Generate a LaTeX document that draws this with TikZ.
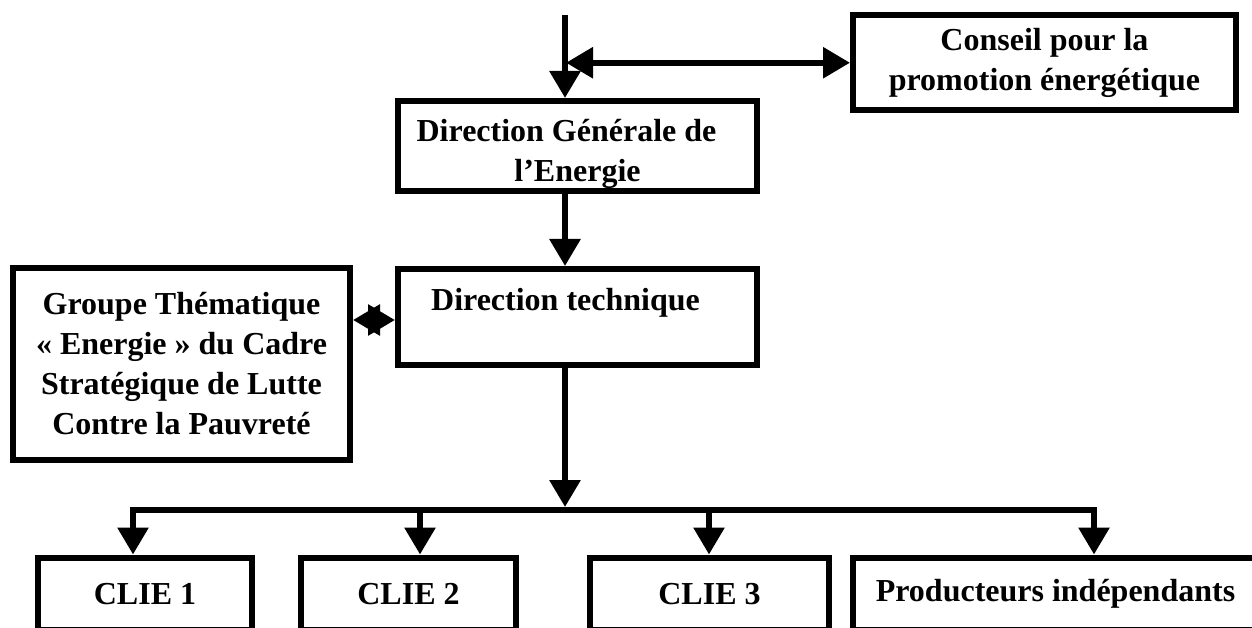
\documentclass[tikz,border=0pt]{standalone}
\usepackage{fontspec}
\setmainfont{Liberation Serif}
\usetikzlibrary{arrows.meta}
\begin{document}
\begin{tikzpicture}[x=1pt,y=-1pt,
  txt/.style={align=center, inner sep=0pt, font=\fontsize{32}{40}\selectfont\bfseries},
  box/.style={draw=black, line width=6pt, rectangle, txt},
  conn/.style={line width=6pt},
  arr/.style={conn, -{Triangle[length=27pt,width=30pt]}},
  darr/.style={conn, {Triangle[length=27pt,width=30pt]}-{Triangle[length=27pt,width=30pt]}}]
\useasboundingbox (0,0) rectangle (1252,628);
\clip (0,0) rectangle (1252,628);
% boxes
\node[box, minimum width=383pt, minimum height=94.5pt] (conseil) at (1044.5,62.75) {Conseil pour la\\promotion énergétique};
\node[box, minimum width=359pt, minimum height=90.5pt,
  label={[txt, yshift=-8pt]center:Direction Générale de\hspace*{22pt}\\l’Energie}] (dge) at (577.5,146.25) {};
\node[box, minimum width=359pt, minimum height=96pt,
  label={[txt, yshift=14pt, xshift=-12pt]center:Direction technique}] (dt) at (577.5,317) {};
\node[box, minimum width=337pt, minimum height=192pt] (groupe) at (181.5,364) {Groupe Thématique\\« Energie » du Cadre\\Stratégique de Lutte\\Contre la Pauvreté};
\node[box, minimum width=214pt, minimum height=72.5pt] (clie1) at (145,593.75) {CLIE 1};
\node[box, minimum width=215pt, minimum height=72.5pt] (clie2) at (408.5,593.75) {CLIE 2};
\node[box, minimum width=239pt, minimum height=72.5pt] (clie3) at (709.5,593.75) {CLIE 3};
\node[box, minimum width=405pt, minimum height=72.5pt] (prod) at (1055.5,593.75) {Producteurs indépendants};
% helper coordinates
\coordinate (top) at (565,15);
\coordinate (dbl) at (566,62.75);
\coordinate (axis) at (565,0);
\coordinate (bus) at (565,510);
\coordinate (bustop) at (565,507);
\coordinate (star) at (0,320);
\coordinate (b1) at (133,0);
\coordinate (b2) at (420,0);
\coordinate (b3) at (709,0);
\coordinate (b4) at (1094,0);
% connectors
\draw[arr] (top) -- (top |- dge.north);
\draw[darr] (dbl) -- (conseil.west);
\draw[arr] (axis |- dge.south) -- (axis |- dt.north);
\draw[arr] (axis |- dt.south) -- (bustop);
\draw[arr] (bus) -| (b1 |- clie1.north);
\draw[arr] (bus) -| (b2 |- clie2.north);
\draw[arr] (bus) -| (b3 |- clie3.north);
\draw[arr] (bus) -| (b4 |- prod.north);
\draw[darr] (groupe.east |- star) -- (dt.west |- star);
\end{tikzpicture}
\end{document}
